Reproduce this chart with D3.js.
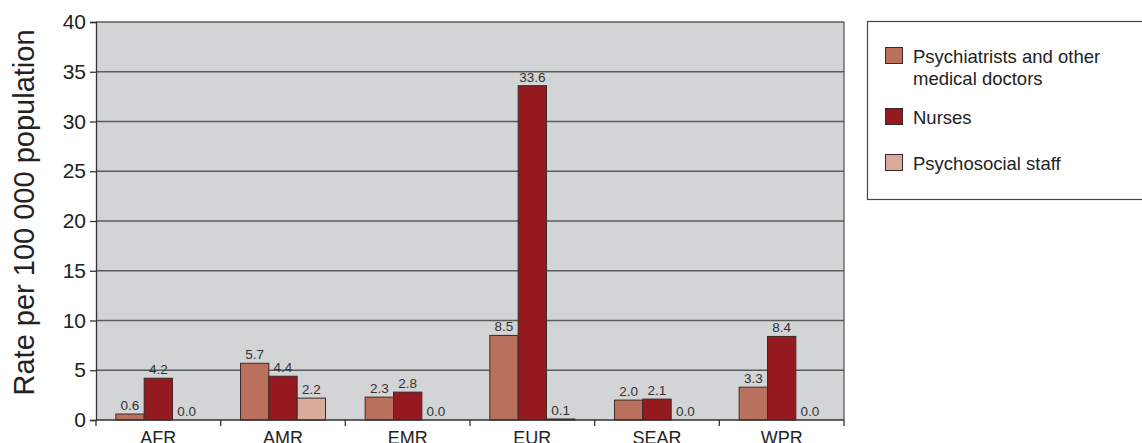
<!DOCTYPE html>
<html>
<head>
<meta charset="utf-8">
<script src="https://cdn.jsdelivr.net/npm/d3@7"></script>
<style>
  html, body { margin: 0; padding: 0; background: #fff; }
  svg { display: block; font-family: "Liberation Sans", Arial, sans-serif; }
</style>
</head>
<body>
<svg id="chart" width="1142" height="443"></svg>
<script>
const categories = ["AFR", "AMR", "EMR", "EUR", "SEAR", "WPR"];
const seriesNames = ["Psychiatrists and other medical doctors", "Nurses", "Psychosocial staff"];
const doctors = [0.6, 5.7, 2.3, 8.5, 2.0, 3.3];
const nurses = [4.2, 4.4, 2.8, 33.6, 2.1, 8.4];
const psychosocial = [0.0, 2.2, 0.0, 0.1, 0.0, 0.0];
const yTicks = [0, 5, 10, 15, 20, 25, 30, 35, 40];
const colors = ["#b9705d", "#951a20", "#d9ab9b"];

const seriesValues = [doctors, nurses, psychosocial];
const svg = d3.select("#chart");

const mLeft = 96, mRight = 844, mTop = 22, mBottom = 420;

const x0 = d3.scaleBand().domain(categories).range([mLeft, mRight]).paddingInner(0).paddingOuter(0);
const x1 = d3.scaleBand().domain(d3.range(3)).range([0, x0.bandwidth()]).paddingInner(0).paddingOuter(0.7);
const y = d3.scaleLinear().domain([0, 40]).range([mBottom, mTop]);

// plot background
svg.append("rect").attr("x", mLeft).attr("y", mTop).attr("width", mRight - mLeft).attr("height", mBottom - mTop)
  .attr("fill", "#d3d4d6");

// gridlines
svg.append("g").selectAll("line").data(yTicks.filter(d => d > 0)).join("line")
  .attr("x1", mLeft).attr("x2", mRight)
  .attr("y1", d => y(d)).attr("y2", d => y(d))
  .attr("stroke", "#5b5b5b").attr("stroke-width", 1.3);

// right border
svg.append("line").attr("x1", mRight).attr("x2", mRight).attr("y1", mTop).attr("y2", mBottom)
  .attr("stroke", "#5b5b5b").attr("stroke-width", 1.3);

// bars
const groups = svg.append("g").selectAll("g").data(categories).join("g")
  .attr("transform", d => `translate(${x0(d)},0)`);

groups.each(function(cat, ci) {
  const g = d3.select(this);
  seriesValues.forEach((vals, si) => {
    const v = vals[ci];
    if (v > 0) {
      g.append("rect")
        .attr("x", x1(si)).attr("y", y(v))
        .attr("width", x1.bandwidth()).attr("height", Math.max(0.01, y(0) - y(v)))
        .attr("fill", colors[si]).attr("stroke", "#3b2a28").attr("stroke-width", 1);
    }
    g.append("text")
      .attr("x", x1(si) + x1.bandwidth() / 2)
      .attr("y", y(v) - 4)
      .attr("text-anchor", "middle")
      .attr("font-size", 13.5)
      .attr("fill", "#333")
      .text(v.toFixed(1));
  });
});

// y axis
const yAxis = d3.axisLeft(y).tickValues(yTicks).tickSize(6).tickPadding(4).tickFormat(d3.format("d"));
const yg = svg.append("g").attr("transform", `translate(${mLeft},0)`).call(yAxis);
yg.select(".domain").attr("stroke", "#333").attr("stroke-width", 1.3);
yg.selectAll(".tick line").attr("stroke", "#333").attr("stroke-width", 1.3);
yg.selectAll(".tick text").attr("font-size", 21).attr("fill", "#222")
  .attr("font-family", "Liberation Sans, Arial, sans-serif");

// x axis baseline
svg.append("line").attr("x1", mLeft).attr("x2", mRight).attr("y1", mBottom).attr("y2", mBottom)
  .attr("stroke", "#333").attr("stroke-width", 1.3);
// category boundary ticks
const bounds = categories.map(c => x0(c)).concat([mRight]);
svg.append("g").selectAll("line").data(bounds).join("line")
  .attr("x1", d => d).attr("x2", d => d).attr("y1", mBottom).attr("y2", mBottom + 6)
  .attr("stroke", "#333").attr("stroke-width", 1.3);
// category labels
svg.append("g").selectAll("text").data(categories).join("text")
  .attr("x", d => x0(d) + x0.bandwidth() / 2)
  .attr("y", 444)
  .attr("text-anchor", "middle")
  .attr("font-size", 18)
  .attr("fill", "#222")
  .text(d => d);

// y title
svg.append("text")
  .attr("transform", `translate(34,${(25 + 400) / 2}) rotate(-90)`)
  .attr("text-anchor", "middle")
  .attr("font-size", 29)
  .attr("fill", "#222")
  .text("Rate per 100 000 population");

// legend
const lg = svg.append("g");
lg.append("rect").attr("x", 867.5).attr("y", 21.5).attr("width", 290).attr("height", 178)
  .attr("fill", "#fff").attr("stroke", "#444").attr("stroke-width", 1.2);
const legendLines = [["Psychiatrists and other", "medical doctors"], ["Nurses"], ["Psychosocial staff"]];
const legendY = [47, 108, 154];
legendLines.forEach((lines, i) => {
  lg.append("rect").attr("x", 885.5).attr("y", legendY[i] + 0.5).attr("width", 17).attr("height", 16)
    .attr("fill", colors[i]).attr("stroke", "#3b2a28").attr("stroke-width", 1);
  lines.forEach((t, j) => {
    lg.append("text").attr("x", 913).attr("y", legendY[i] + 16 + j * 22)
      .attr("font-size", 18.5).attr("fill", "#222").text(t);
  });
});
</script>
</body>
</html>
